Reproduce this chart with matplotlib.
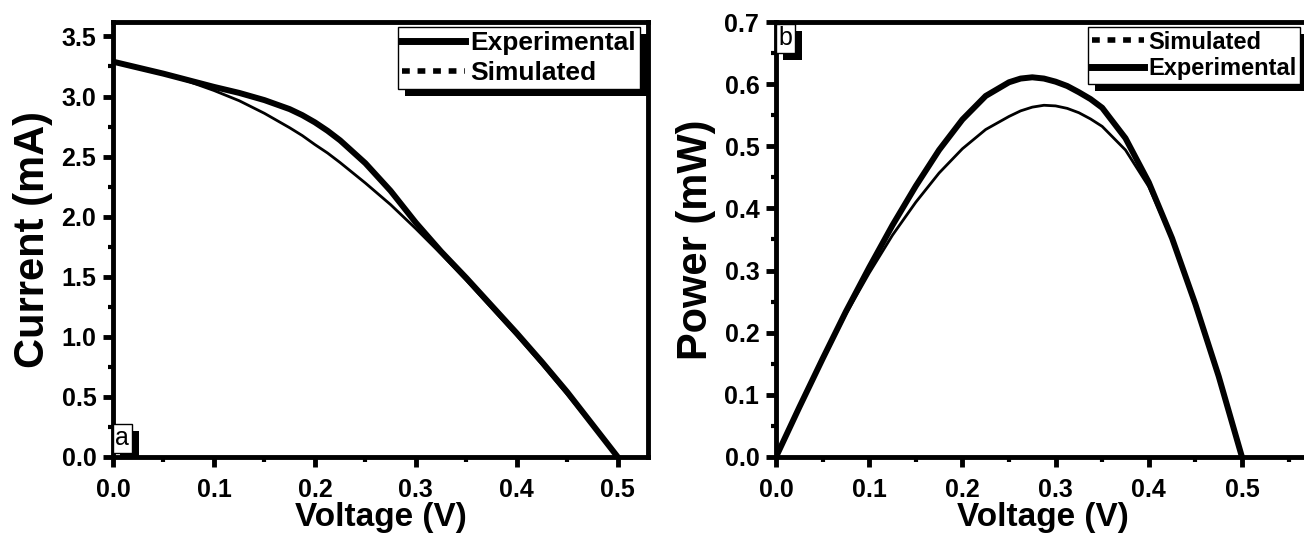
import matplotlib
matplotlib.use("Agg")
import matplotlib.pyplot as plt
from matplotlib.lines import Line2D
from matplotlib.patches import Rectangle
from matplotlib.ticker import MultipleLocator

# Panel a: voltage (V) and current (mA)
volt_a = [0.0, 0.025, 0.05, 0.075, 0.1, 0.125, 0.15, 0.175, 0.1875, 0.2, 0.2125,
          0.225, 0.25, 0.275, 0.3, 0.325, 0.35, 0.375, 0.4, 0.425, 0.45, 0.475, 0.5]
current_exp = [3.29, 3.24, 3.19, 3.135, 3.08, 3.03, 2.97, 2.895, 2.845, 2.785, 2.715,
               2.635, 2.445, 2.215, 1.95, 1.71, 1.49, 1.26, 1.03, 0.79, 0.54, 0.27, 0.0]
current_sim = [3.29, 3.245, 3.19, 3.125, 3.05, 2.965, 2.86, 2.74, 2.675, 2.60, 2.53,
               2.45, 2.28, 2.10, 1.90, 1.69, 1.47, 1.24, 1.01, 0.77, 0.52, 0.26, 0.0]

# Panel b: voltage (V) and power (mW)
volt_b = [0.0, 0.025, 0.05, 0.075, 0.1, 0.125, 0.15, 0.175, 0.2, 0.225, 0.25,
          0.2625, 0.275, 0.2875, 0.3, 0.3125, 0.325, 0.3375, 0.35,
          0.375, 0.4, 0.425, 0.45, 0.475, 0.5]
power_exp = [0.0, 0.080, 0.158, 0.234, 0.305, 0.373, 0.436, 0.494, 0.543, 0.581, 0.603,
             0.609, 0.611, 0.609, 0.604, 0.597, 0.587, 0.576, 0.562,
             0.513, 0.442, 0.352, 0.246, 0.130, 0.0]
power_sim = [0.0, 0.080, 0.157, 0.230, 0.296, 0.357, 0.410, 0.457, 0.496, 0.527, 0.548,
             0.557, 0.563, 0.566, 0.565, 0.561, 0.554, 0.544, 0.532,
             0.494, 0.435, 0.350, 0.245, 0.130, 0.0]

plt.rcParams["font.family"] = ["Liberation Sans", "DejaVu Sans"]
plt.rcParams["font.weight"] = "bold"

W, H = 1304, 538
fig = plt.figure(figsize=(W / 100, H / 100), dpi=100)

ax_a = fig.add_axes([113 / W, 1 - 457 / H, 535 / W, 435 / H])
ax_b = fig.add_axes([776 / W, 1 - 457 / H, 534 / W, 435 / H])


def style_axes(ax, xmax, ymax, ymajor):
    ax.set_facecolor("none")
    ax.set_xlim(0, xmax)
    ax.set_ylim(0, ymax)
    ax.xaxis.set_major_locator(MultipleLocator(0.1))
    ax.xaxis.set_minor_locator(MultipleLocator(0.05))
    ax.yaxis.set_major_locator(MultipleLocator(ymajor))
    ax.yaxis.set_minor_locator(MultipleLocator(ymajor / 2))
    for s in ax.spines.values():
        s.set_linewidth(3.5)
    ax.tick_params(which="major", direction="out", length=7, width=3.5, pad=5,
                   labelsize=18)
    ax.tick_params(axis="x", which="major", pad=8)
    ax.tick_params(which="minor", direction="out", length=3.5, width=3)
    ax.xaxis.set_major_formatter(plt.FormatStrFormatter("%.1f"))
    ax.yaxis.set_major_formatter(plt.FormatStrFormatter("%.1f"))


style_axes(ax_a, 0.53, 3.62, 0.5)
style_axes(ax_b, 0.573, 0.7, 0.1)

# Panel a
ax_a.plot(volt_a, current_exp, color="black", lw=4.3, solid_joinstyle="round")
ax_a.plot(volt_a, current_sim, color="black", lw=2)
ax_a.set_xlabel("Voltage (V)", fontsize=24, fontweight="bold", labelpad=0)
ax_a.set_ylabel("Current (mA)", fontsize=30, fontweight="bold", labelpad=6)

# Panel b
ax_b.plot(volt_b, power_exp, color="black", lw=4.3, solid_joinstyle="round")
ax_b.plot(volt_b, power_sim, color="black", lw=2)
ax_b.set_xlabel("Voltage (V)", fontsize=24, fontweight="bold", labelpad=0)
ax_b.set_ylabel("Power (mW)", fontsize=30, fontweight="bold", labelpad=6)

h_exp = Line2D([], [], color="black", lw=5)
h_sim = Line2D([], [], color="black", lw=4, linestyle=(0, (1.4, 1.4)))

leg_kw = dict(frameon=True, fancybox=False, framealpha=1, edgecolor="black",
              handletextpad=0.2, borderpad=0.15, borderaxespad=0)
leg_a = ax_a.legend([h_exp, h_sim], ["Experimental", "Simulated"],
                    loc="upper right", bbox_to_anchor=(0.985, 0.988),
                    prop={"size": 19, "weight": "bold"}, handlelength=2.4,
                    labelspacing=0.22, **leg_kw)
leg_b = ax_b.legend([h_sim, h_exp], ["Simulated", "Experimental"],
                    loc="upper left", bbox_to_anchor=(0.585, 0.988),
                    prop={"size": 17, "weight": "bold"}, handlelength=2.2,
                    labelspacing=0.15, **leg_kw)
for leg in (leg_a, leg_b):
    leg.get_frame().set_linewidth(1)

txt_a = ax_a.text(0.004, 0.015, "a", transform=ax_a.transAxes, fontsize=18,
                  fontweight="normal", ha="left", va="bottom", zorder=6,
                  bbox=dict(boxstyle="square,pad=0.1", fc="white", ec="black", lw=1))
txt_b = ax_b.text(0.004, 0.99, "b", transform=ax_b.transAxes, fontsize=18,
                  fontweight="normal", ha="left", va="top", zorder=6,
                  bbox=dict(boxstyle="square,pad=0.1", fc="white", ec="black", lw=1))

# drop shadows behind the legend boxes and panel tags
fig.canvas.draw()
shadow_items = [(ax_a, leg_a.get_frame()), (ax_b, leg_b.get_frame()),
                (ax_a, txt_a.get_bbox_patch()), (ax_b, txt_b.get_bbox_patch())]
for ax, patch in shadow_items:
    bb = patch.get_window_extent()
    sh = Rectangle((bb.x0 + 7, bb.y0 - 7), bb.width, bb.height, transform=None,
                   facecolor="black", edgecolor="none", zorder=4.5)
    ax.add_artist(sh)
    sh.set_clip_path(ax.patch)

fig.savefig("out.png", dpi=100)
